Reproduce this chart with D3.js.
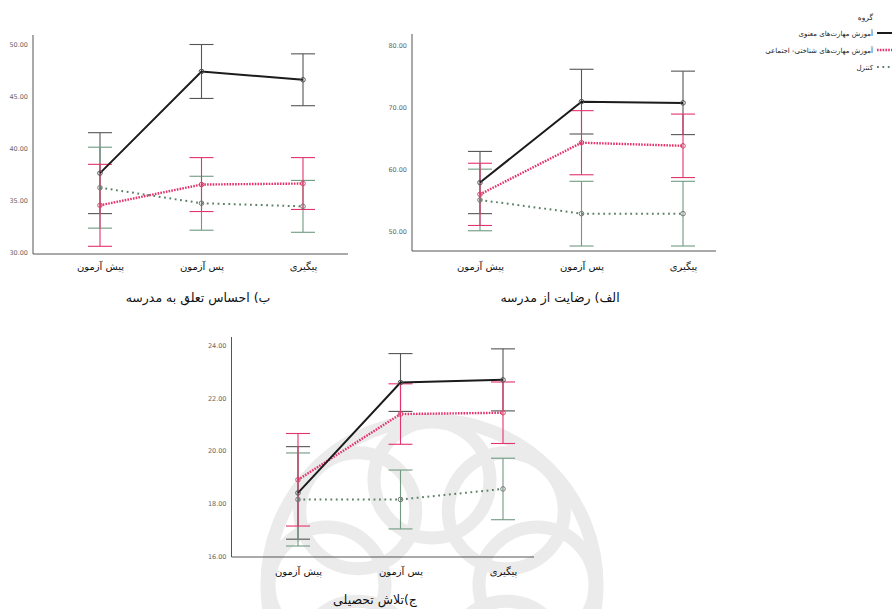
<!DOCTYPE html>
<html>
<head>
<meta charset="utf-8">
<script src="https://cdn.jsdelivr.net/npm/d3@7"></script>
<style>
  body { margin: 0; background: #fff; }
  text { font-family: "DejaVu Sans", sans-serif; }
</style>
</head>
<body>
<svg width="892" height="609"></svg>
<script>
// categories
const times = ["پیش آزمون", "پس آزمون", "پیگیری"];
const groups = ["آموزش مهارت\u200cهای معنوی", "آموزش مهارت\u200cهای شناختی- اجتماعی", "کنترل"];

// ب) sense of belonging (means and error half-widths)
const belongSpiritual = [37.6, 47.4, 46.6];
const belongSpiritualErr = [3.9, 2.6, 2.5];
const belongCognitive = [34.5, 36.5, 36.6];
const belongCognitiveErr = [3.95, 2.6, 2.5];
const belongControl = [36.2, 34.7, 34.4];
const belongControlErr = [3.9, 2.6, 2.5];
const belongTicks = [30, 35, 40, 45, 50];

// الف) school satisfaction
const satisSpiritual = [57.9, 70.9, 70.7];
const satisSpiritualErr = [5.0, 5.2, 5.1];
const satisCognitive = [56.0, 64.3, 63.8];
const satisCognitiveErr = [5.0, 5.15, 5.1];
const satisControl = [55.1, 52.9, 52.9];
const satisControlErr = [4.95, 5.2, 5.2];
const satisTicks = [50, 60, 70, 80];

// ج) academic effort
const effortSpiritual = [18.4, 22.6, 22.7];
const effortSpiritualErr = [1.76, 1.1, 1.18];
const effortCognitive = [18.9, 21.4, 21.45];
const effortCognitiveErr = [1.76, 1.15, 1.17];
const effortControl = [18.15, 18.15, 18.55];
const effortControlErr = [1.77, 1.12, 1.17];
const effortTicks = [16, 18, 20, 22, 24];

const styles = [
  { line: "#1b1b1b", bar: "#555", width: 2, dash: null, mark: "#555" },
  { line: "#e3336b", bar: "#e3336b", width: 2.4, dash: "1.6,1.2", mark: "#d04a70" },
  { line: "#5d7f68", bar: "#6f9a80", width: 2, dash: "1.8,3.6", mark: "#777" }
];

const svg = d3.select("svg");

// faint watermark behind the third chart
const wm = svg.append("g").attr("transform", "translate(432,585)")
  .attr("fill", "none").attr("stroke", "#dedede").attr("stroke-width", 13).attr("opacity", 0.6);
d3.range(8).forEach(i => {
  const a = i * Math.PI / 4;
  wm.append("circle").attr("cx", 105 * Math.cos(a)).attr("cy", 105 * Math.sin(a)).attr("r", 58);
});
wm.append("circle").attr("r", 165);

const panels = [
  {
    title: "ب) احساس تعلق به مدرسه", titleX: 198, titleY: 302,
    axisX: 33, axisEnd: 348, xFirst: 100, xLast: 303,
    domain: [30, 50], range: [252, 44.5], top: 35, base: 254, labelY: 274,
    ticks: belongTicks,
    means: [belongSpiritual, belongCognitive, belongControl],
    errs: [belongSpiritualErr, belongCognitiveErr, belongControlErr]
  },
  {
    title: "الف) رضایت از مدرسه", titleX: 560, titleY: 302,
    axisX: 412, axisEnd: 716, xFirst: 480, xLast: 683,
    domain: [50, 80], range: [231.7, 45], top: 34, base: 251, labelY: 274,
    ticks: satisTicks,
    means: [satisSpiritual, satisCognitive, satisControl],
    errs: [satisSpiritualErr, satisCognitiveErr, satisControlErr]
  },
  {
    title: "ج)تلاش تحصیلی", titleX: 375, titleY: 604,
    axisX: 231.5, axisEnd: 534, xFirst: 298, xLast: 503,
    domain: [16, 24], range: [556, 345.7], top: 337, base: 557, labelY: 579,
    ticks: effortTicks,
    means: [effortSpiritual, effortCognitive, effortControl],
    errs: [effortSpiritualErr, effortCognitiveErr, effortControlErr]
  }
];

panels.forEach(p => {
  const g = svg.append("g");
  const x = d3.scalePoint().domain(times).range([p.xFirst, p.xLast]);
  const y = d3.scaleLinear().domain(p.domain).range(p.range);

  // axes
  g.append("line").attr("x1", p.axisX).attr("x2", p.axisX)
    .attr("y1", p.top).attr("y2", p.base).attr("stroke", "#555");
  g.append("line").attr("x1", p.axisX).attr("x2", p.axisEnd)
    .attr("y1", p.base).attr("y2", p.base).attr("stroke", "#555");

  const ya = g.append("g").attr("transform", `translate(${p.axisX},0)`)
    .call(d3.axisLeft(y).tickValues(p.ticks).tickFormat(d3.format(".2f")).tickSize(0).tickPadding(5));
  ya.select(".domain").remove();
  ya.selectAll("text").attr("font-family", "Liberation Sans, Arial, sans-serif")
    .attr("font-size", 6.5).attr("fill", "#666");

  const xa = g.append("g").attr("transform", `translate(0,${p.labelY - 11})`)
    .call(d3.axisBottom(x).tickSize(0).tickPadding(0));
  xa.select(".domain").remove();
  xa.selectAll("text").attr("font-size", 10).attr("fill", "#111")
    .attr("dy", "0.71em");

  g.append("text").attr("x", p.titleX).attr("y", p.titleY)
    .attr("text-anchor", "middle").attr("font-size", 12.5).attr("fill", "#111")
    .text(p.title);

  // error bars: spiritual, control, then cognitive on top
  [0, 2, 1].forEach(k => {
    const st = styles[k];
    const eb = g.append("g").attr("stroke", st.bar).attr("stroke-width", 1.1);
    times.forEach((t, i) => {
      const lo = y(p.means[k][i] - p.errs[k][i]);
      const hi = y(p.means[k][i] + p.errs[k][i]);
      const cx = x(t);
      eb.append("line").attr("x1", cx).attr("x2", cx).attr("y1", lo).attr("y2", hi);
      eb.append("line").attr("x1", cx - 12).attr("x2", cx + 12).attr("y1", lo).attr("y2", lo);
      eb.append("line").attr("x1", cx - 12).attr("x2", cx + 12).attr("y1", hi).attr("y2", hi);
    });
  });

  // mean lines
  const line = d3.line().x((d, i) => x(times[i])).y(d => y(d));
  [2, 1, 0].forEach(k => {
    const st = styles[k];
    g.append("path").datum(p.means[k]).attr("d", line)
      .attr("fill", "none").attr("stroke", st.line).attr("stroke-width", st.width)
      .attr("stroke-dasharray", st.dash);
    g.selectAll(null).data(p.means[k]).enter().append("circle")
      .attr("cx", (d, i) => x(times[i])).attr("cy", d => y(d)).attr("r", 2.3)
      .attr("fill", "none").attr("stroke", st.mark).attr("stroke-width", 1);
  });
});

// legend
const lg = svg.append("g");
lg.append("text").attr("x", 873).attr("y", 20).attr("text-anchor", "end")
  .attr("font-size", 7.5).attr("fill", "#222").text("گروه");
groups.forEach((name, k) => {
  const yy = 36 + k * 17;
  const st = styles[k];
  lg.append("line").attr("x1", 877).attr("x2", 892).attr("y1", yy - 3).attr("y2", yy - 3)
    .attr("stroke", st.line).attr("stroke-width", st.width).attr("stroke-dasharray", st.dash);
  lg.append("text").attr("x", 873).attr("y", yy).attr("text-anchor", "end")
    .attr("font-size", 7).attr("fill", "#222").text(name);
});
</script>
</body>
</html>
